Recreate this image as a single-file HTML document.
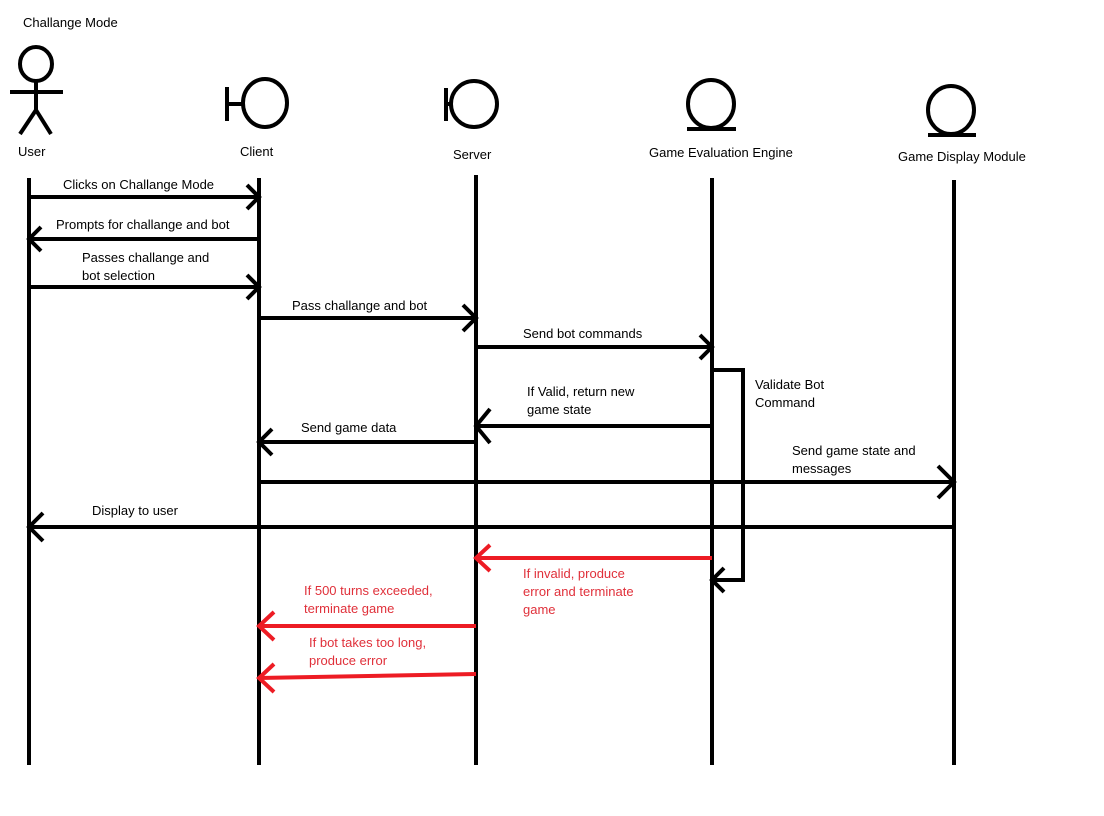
<!DOCTYPE html>
<html><head><style>
html,body{margin:0;padding:0;background:#fff;}
svg{display:block;}
text{font-family:"Liberation Sans",sans-serif;font-size:13px;fill:#000;}
.r{fill:#e0303a;}
</style></head><body>
<svg width="1104" height="816" viewBox="0 0 1104 816">
<g stroke="#000" stroke-width="4" fill="none" stroke-linecap="butt">
<!-- actors -->
<ellipse cx="36" cy="64" rx="16" ry="17"/>
<line x1="10" y1="92" x2="63" y2="92"/>
<line x1="36" y1="81" x2="36" y2="110"/>
<line x1="36" y1="110" x2="20" y2="134"/>
<line x1="36" y1="110" x2="51" y2="134"/>
<ellipse cx="265" cy="103" rx="22" ry="24"/>
<line x1="227" y1="87" x2="227" y2="121"/><line x1="227" y1="104" x2="243" y2="104"/>
<circle cx="474" cy="104" r="23"/>
<line x1="446" y1="88" x2="446" y2="121"/><line x1="446" y1="104" x2="451" y2="104"/>
<ellipse cx="711" cy="104" rx="23" ry="24"/>
<line x1="687" y1="129" x2="736" y2="129"/>
<ellipse cx="951" cy="110" rx="23" ry="24"/>
<line x1="928" y1="135" x2="976" y2="135"/>
<!-- lifelines -->
<line x1="29" y1="178" x2="29" y2="765"/>
<line x1="259" y1="178" x2="259" y2="765"/>
<line x1="476" y1="175" x2="476" y2="765"/>
<line x1="712" y1="178" x2="712" y2="765"/>
<line x1="954" y1="180" x2="954" y2="765"/>
<!-- messages -->
<line x1="29" y1="197" x2="259" y2="197"/><polyline points="247,185 259,197 247,209"/>
<line x1="259" y1="239" x2="29" y2="239"/><polyline points="41,227 29,239 41,251"/>
<line x1="29" y1="287" x2="259" y2="287"/><polyline points="247,275 259,287 247,299"/>
<line x1="259" y1="318" x2="476" y2="318"/><polyline points="463,305 476,318 463,331"/>
<line x1="476" y1="347" x2="712" y2="347"/><polyline points="700,335 712,347 700,359"/>
<polyline points="712,370 743,370 743,580 712,580"/><polyline points="724,568 712,580 724,592"/>
<line x1="712" y1="426" x2="476" y2="426"/><polyline points="490,409 476,426 490,443"/>
<line x1="476" y1="442" x2="259" y2="442"/><polyline points="272,429 259,442 272,455"/>
<line x1="259" y1="482" x2="954" y2="482"/><polyline points="938,466 954,482 938,498"/>
<line x1="954" y1="527" x2="29" y2="527"/><polyline points="43,513 29,527 43,541"/>
</g>
<g stroke="#ed1c24" stroke-width="4" fill="none">
<line x1="712" y1="558" x2="476" y2="558"/><polyline points="490,545 476,558 490,571"/>
<line x1="476" y1="626" x2="259" y2="626"/><polyline points="274,612 259,626 274,640"/>
<line x1="476" y1="674" x2="259" y2="678"/><polyline points="274,664 259,678 274,692"/>
</g>
<text x="23" y="27">Challange Mode</text>
<text x="18" y="156">User</text>
<text x="240" y="156">Client</text>
<text x="453" y="159">Server</text>
<text x="649" y="157">Game Evaluation Engine</text>
<text x="898" y="161">Game Display Module</text>
<text x="63" y="189">Clicks on Challange Mode</text>
<text x="56" y="229">Prompts for challange and bot</text>
<text x="82" y="262">Passes challange and</text>
<text x="82" y="280">bot selection</text>
<text x="292" y="310">Pass challange and bot</text>
<text x="523" y="338">Send bot commands</text>
<text x="755" y="389">Validate Bot</text>
<text x="755" y="407">Command</text>
<text x="527" y="396">If Valid, return new</text>
<text x="527" y="414">game state</text>
<text x="301" y="432">Send game data</text>
<text x="792" y="455">Send game state and</text>
<text x="792" y="473">messages</text>
<text x="92" y="515">Display to user</text>
<text class="r" x="523" y="578">If invalid, produce</text>
<text class="r" x="523" y="596">error and terminate</text>
<text class="r" x="523" y="614">game</text>
<text class="r" x="304" y="595">If 500 turns exceeded,</text>
<text class="r" x="304" y="613">terminate game</text>
<text class="r" x="309" y="647">If bot takes too long,</text>
<text class="r" x="309" y="665">produce error</text>
</svg>
</body></html>
